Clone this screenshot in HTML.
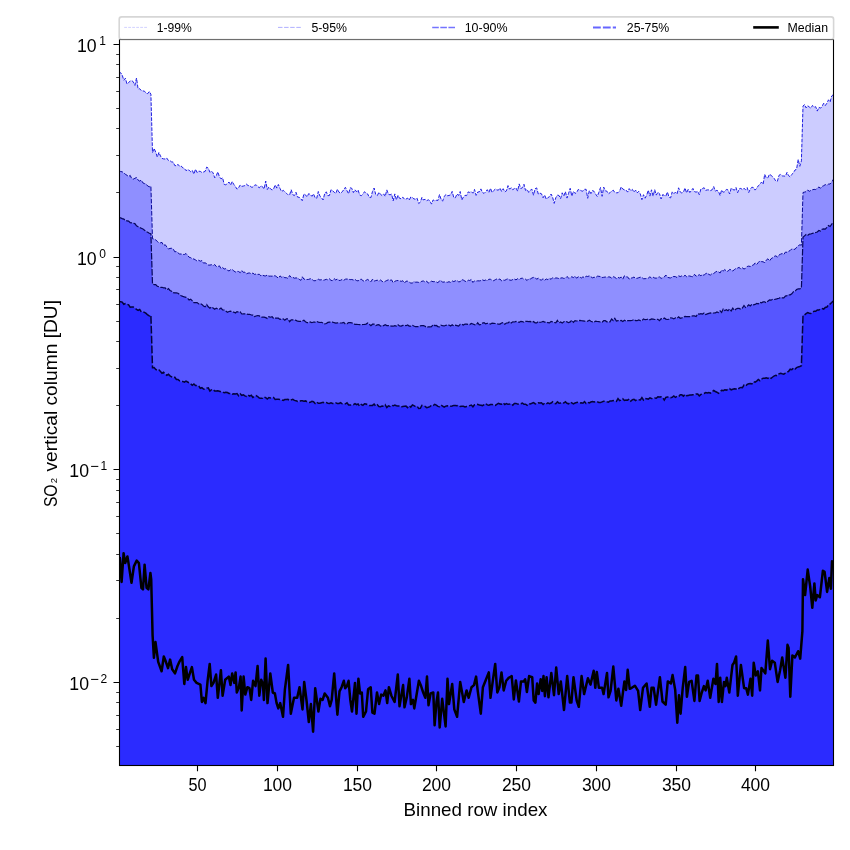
<!DOCTYPE html>
<html><head><meta charset="utf-8"><style>
html,body{margin:0;padding:0;background:#fff;}
svg{display:block;font-family:"Liberation Sans", sans-serif;will-change:transform;}
</style></head><body>
<svg width="850" height="850" viewBox="0 0 850 850">
<rect width="850" height="850" fill="#fff"/>
<defs><clipPath id="ax"><rect x="119.5" y="39.5" width="714.0" height="726.0"/></clipPath></defs>
<g clip-path="url(#ax)">
<path d="M119.0,71.5 L120.6,72.7 L122.2,75.1 L123.8,80.2 L125.4,78.2 L127.0,84.1 L128.6,82.5 L130.2,81.1 L131.8,80.7 L133.3,81.8 L134.9,85.4 L136.5,78.0 L138.1,89.0 L139.7,88.7 L141.3,90.6 L142.9,90.9 L144.5,91.2 L146.1,93.3 L147.7,93.6 L149.3,91.5 L150.9,94.2 L152.5,152.5 L154.1,148.5 L155.7,152.1 L157.3,157.0 L158.9,152.4 L160.5,156.1 L162.0,158.4 L163.6,158.9 L165.2,159.0 L166.8,158.1 L168.4,160.5 L170.0,160.7 L171.6,161.9 L173.2,162.1 L174.8,165.6 L176.4,165.7 L178.0,164.3 L179.6,166.4 L181.2,166.0 L182.8,167.9 L184.4,168.4 L186.0,170.7 L187.6,169.6 L189.1,170.2 L190.7,171.7 L192.3,170.4 L193.9,174.1 L195.5,169.2 L197.1,172.6 L198.7,171.2 L200.3,171.4 L201.9,172.5 L203.5,172.0 L205.1,171.4 L206.7,167.1 L208.3,168.2 L209.9,172.3 L211.5,171.2 L213.1,172.9 L214.7,177.8 L216.3,175.6 L217.8,171.9 L219.4,176.6 L221.0,178.9 L222.6,177.8 L224.2,184.4 L225.8,184.8 L227.4,183.6 L229.0,182.0 L230.6,185.0 L232.2,181.5 L233.8,184.4 L235.4,186.5 L237.0,189.2 L238.6,187.7 L240.2,185.0 L241.8,186.4 L243.4,186.0 L244.9,185.6 L246.5,184.2 L248.1,185.6 L249.7,185.6 L251.3,187.1 L252.9,187.1 L254.5,185.3 L256.1,184.8 L257.7,186.5 L259.3,187.8 L260.9,185.8 L262.5,186.7 L264.1,189.0 L265.7,181.0 L267.3,189.5 L268.9,187.0 L270.5,188.8 L272.1,190.0 L273.6,188.9 L275.2,184.9 L276.8,188.1 L278.4,184.5 L280.0,188.4 L281.6,191.7 L283.2,190.3 L284.8,191.7 L286.4,193.2 L288.0,194.8 L289.6,194.9 L291.2,189.8 L292.8,194.7 L294.4,195.6 L296.0,192.3 L297.6,197.1 L299.2,197.3 L300.8,198.7 L302.3,200.7 L303.9,193.9 L305.5,194.9 L307.1,196.9 L308.7,193.6 L310.3,194.5 L311.9,196.3 L313.5,193.9 L315.1,197.6 L316.7,198.4 L318.3,191.5 L319.9,196.1 L321.5,197.7 L323.1,200.0 L324.7,193.5 L326.3,191.8 L327.9,195.7 L329.4,195.5 L331.0,189.7 L332.6,190.8 L334.2,192.2 L335.8,193.5 L337.4,189.2 L339.0,192.2 L340.6,193.3 L342.2,191.8 L343.8,189.6 L345.4,187.3 L347.0,190.8 L348.6,193.8 L350.2,187.8 L351.8,188.3 L353.4,192.6 L355.0,189.7 L356.6,191.8 L358.1,190.0 L359.7,195.0 L361.3,195.7 L362.9,194.2 L364.5,191.7 L366.1,193.1 L367.7,194.0 L369.3,197.4 L370.9,197.6 L372.5,191.4 L374.1,188.0 L375.7,194.3 L377.3,195.7 L378.9,192.3 L380.5,194.3 L382.1,195.6 L383.7,193.9 L385.2,196.4 L386.8,189.9 L388.4,194.1 L390.0,194.9 L391.6,194.1 L393.2,200.9 L394.8,193.9 L396.4,199.8 L398.0,195.3 L399.6,198.4 L401.2,198.7 L402.8,197.1 L404.4,199.1 L406.0,199.1 L407.6,198.1 L409.2,200.2 L410.8,197.0 L412.4,197.5 L413.9,198.9 L415.5,199.2 L417.1,198.2 L418.7,203.5 L420.3,202.2 L421.9,197.4 L423.5,200.0 L425.1,199.2 L426.7,200.7 L428.3,199.8 L429.9,200.8 L431.5,204.1 L433.1,199.9 L434.7,200.8 L436.3,200.3 L437.9,200.5 L439.5,194.5 L441.0,199.0 L442.6,201.2 L444.2,196.7 L445.8,194.5 L447.4,195.7 L449.0,195.5 L450.6,194.8 L452.2,191.4 L453.8,197.8 L455.4,197.7 L457.0,193.9 L458.6,195.5 L460.2,191.5 L461.8,200.0 L463.4,197.0 L465.0,195.3 L466.6,195.6 L468.2,191.9 L469.7,192.4 L471.3,191.6 L472.9,193.2 L474.5,189.4 L476.1,195.4 L477.7,192.1 L479.3,191.8 L480.9,188.9 L482.5,192.5 L484.1,193.4 L485.7,191.8 L487.3,189.7 L488.9,192.5 L490.5,188.3 L492.1,192.5 L493.7,190.6 L495.3,189.0 L496.8,189.9 L498.4,190.2 L500.0,188.1 L501.6,191.4 L503.2,188.7 L504.8,191.8 L506.4,190.9 L508.0,185.6 L509.6,189.2 L511.2,187.6 L512.8,189.7 L514.4,188.5 L516.0,188.0 L517.6,191.1 L519.2,183.9 L520.8,188.5 L522.4,187.7 L524.0,184.3 L525.5,190.4 L527.1,189.5 L528.7,192.4 L530.3,190.2 L531.9,189.2 L533.5,195.2 L535.1,188.7 L536.7,187.9 L538.3,194.1 L539.9,193.1 L541.5,193.8 L543.1,197.8 L544.7,195.0 L546.3,199.3 L547.9,197.6 L549.5,196.7 L551.1,194.0 L552.6,197.2 L554.2,203.4 L555.8,197.7 L557.4,195.1 L559.0,195.5 L560.6,198.7 L562.2,192.8 L563.8,196.0 L565.4,191.6 L567.0,198.1 L568.6,193.3 L570.2,188.3 L571.8,196.1 L573.4,191.4 L575.0,193.4 L576.6,192.6 L578.2,189.5 L579.8,190.0 L581.3,190.8 L582.9,191.2 L584.5,189.3 L586.1,189.3 L587.7,198.3 L589.3,190.6 L590.9,193.6 L592.5,190.6 L594.1,191.4 L595.7,194.2 L597.3,196.5 L598.9,192.2 L600.5,187.5 L602.1,196.3 L603.7,187.1 L605.3,190.8 L606.9,191.2 L608.5,193.8 L610.0,192.7 L611.6,191.1 L613.2,190.1 L614.8,192.5 L616.4,192.8 L618.0,192.7 L619.6,191.1 L621.2,186.9 L622.8,189.0 L624.4,189.9 L626.0,190.0 L627.6,192.1 L629.2,188.6 L630.8,190.8 L632.4,189.4 L634.0,192.2 L635.6,190.1 L637.1,193.0 L638.7,191.3 L640.3,193.9 L641.9,199.7 L643.5,194.7 L645.1,198.2 L646.7,195.1 L648.3,190.2 L649.9,196.1 L651.5,189.8 L653.1,196.1 L654.7,189.7 L656.3,195.1 L657.9,192.2 L659.5,193.7 L661.1,199.0 L662.7,194.6 L664.3,195.4 L665.8,196.1 L667.4,192.0 L669.0,197.1 L670.6,197.9 L672.2,191.9 L673.8,193.8 L675.4,192.1 L677.0,194.0 L678.6,187.8 L680.2,191.9 L681.8,193.0 L683.4,192.2 L685.0,188.0 L686.6,192.9 L688.2,189.3 L689.8,192.5 L691.4,190.6 L692.9,188.4 L694.5,191.6 L696.1,192.2 L697.7,191.3 L699.3,194.7 L700.9,188.9 L702.5,188.6 L704.1,187.7 L705.7,190.3 L707.3,189.9 L708.9,189.9 L710.5,190.6 L712.1,189.8 L713.7,186.6 L715.3,191.1 L716.9,190.3 L718.5,191.4 L720.1,195.5 L721.6,190.0 L723.2,192.2 L724.8,191.7 L726.4,189.4 L728.0,189.9 L729.6,194.0 L731.2,188.2 L732.8,189.4 L734.4,190.2 L736.0,187.5 L737.6,192.7 L739.2,188.9 L740.8,188.4 L742.4,189.6 L744.0,188.3 L745.6,189.7 L747.2,187.6 L748.7,192.5 L750.3,189.1 L751.9,187.2 L753.5,187.6 L755.1,190.1 L756.7,188.3 L758.3,185.7 L759.9,184.4 L761.5,182.0 L763.1,184.3 L764.7,174.3 L766.3,177.9 L767.9,177.8 L769.5,174.2 L771.1,175.4 L772.7,176.8 L774.3,178.6 L775.9,181.3 L777.4,181.2 L779.0,175.3 L780.6,174.4 L782.2,175.9 L783.8,176.0 L785.4,176.2 L787.0,172.4 L788.6,175.7 L790.2,176.8 L791.8,174.4 L793.4,172.9 L795.0,170.0 L796.6,169.2 L798.2,159.4 L799.8,166.3 L801.4,160.9 L803.0,106.1 L804.5,104.5 L806.1,107.9 L807.7,105.7 L809.3,107.0 L810.9,108.2 L812.5,105.4 L814.1,107.2 L815.7,106.7 L817.3,111.1 L818.9,107.3 L820.5,108.2 L822.1,106.3 L823.7,103.2 L825.3,105.5 L826.9,103.2 L828.5,99.8 L830.1,102.0 L831.7,96.0 L833.2,94.7 L833.5,765.5 L119.5,765.5 Z" fill="#ccccff"/>
<path d="M119.0,170.4 L120.6,171.5 L122.2,171.8 L123.8,172.9 L125.4,174.3 L127.0,175.3 L128.6,176.6 L130.2,175.4 L131.8,178.8 L133.3,179.1 L134.9,178.3 L136.5,177.5 L138.1,180.1 L139.7,181.1 L141.3,180.1 L142.9,182.9 L144.5,183.6 L146.1,184.0 L147.7,186.0 L149.3,186.8 L150.9,186.0 L152.5,238.8 L154.1,239.0 L155.7,239.8 L157.3,241.5 L158.9,242.8 L160.5,242.8 L162.0,242.4 L163.6,245.6 L165.2,244.7 L166.8,246.9 L168.4,249.0 L170.0,248.4 L171.6,248.3 L173.2,248.9 L174.8,251.8 L176.4,251.6 L178.0,252.9 L179.6,254.0 L181.2,254.0 L182.8,254.4 L184.4,254.5 L186.0,253.5 L187.6,255.4 L189.1,257.2 L190.7,257.7 L192.3,258.8 L193.9,259.0 L195.5,259.9 L197.1,261.1 L198.7,260.2 L200.3,261.2 L201.9,260.6 L203.5,263.1 L205.1,262.8 L206.7,263.7 L208.3,265.0 L209.9,265.1 L211.5,264.7 L213.1,265.8 L214.7,264.5 L216.3,266.5 L217.8,266.7 L219.4,265.8 L221.0,268.6 L222.6,267.5 L224.2,269.0 L225.8,268.6 L227.4,270.2 L229.0,271.0 L230.6,269.7 L232.2,269.5 L233.8,270.9 L235.4,272.0 L237.0,271.3 L238.6,271.5 L240.2,272.7 L241.8,270.4 L243.4,272.4 L244.9,272.1 L246.5,273.8 L248.1,273.1 L249.7,273.0 L251.3,273.8 L252.9,273.1 L254.5,274.4 L256.1,274.0 L257.7,274.4 L259.3,274.3 L260.9,275.8 L262.5,275.1 L264.1,275.8 L265.7,275.9 L267.3,275.0 L268.9,276.2 L270.5,276.1 L272.1,276.2 L273.6,275.7 L275.2,275.8 L276.8,276.9 L278.4,278.2 L280.0,275.9 L281.6,277.2 L283.2,276.6 L284.8,277.7 L286.4,277.7 L288.0,278.4 L289.6,275.5 L291.2,277.4 L292.8,277.3 L294.4,278.2 L296.0,277.9 L297.6,278.1 L299.2,279.3 L300.8,280.4 L302.3,276.8 L303.9,279.0 L305.5,279.6 L307.1,279.5 L308.7,279.4 L310.3,278.7 L311.9,279.2 L313.5,280.6 L315.1,280.8 L316.7,280.0 L318.3,279.2 L319.9,280.0 L321.5,279.7 L323.1,280.3 L324.7,279.9 L326.3,279.3 L327.9,279.9 L329.4,278.8 L331.0,280.4 L332.6,280.6 L334.2,278.7 L335.8,280.0 L337.4,278.8 L339.0,280.5 L340.6,280.3 L342.2,279.4 L343.8,280.3 L345.4,279.2 L347.0,279.0 L348.6,279.2 L350.2,279.6 L351.8,279.5 L353.4,280.0 L355.0,279.4 L356.6,280.6 L358.1,280.9 L359.7,279.7 L361.3,279.0 L362.9,280.8 L364.5,281.2 L366.1,280.3 L367.7,279.4 L369.3,280.7 L370.9,281.8 L372.5,279.2 L374.1,281.1 L375.7,280.6 L377.3,280.2 L378.9,281.3 L380.5,280.0 L382.1,281.3 L383.7,282.2 L385.2,281.3 L386.8,280.5 L388.4,279.8 L390.0,280.3 L391.6,279.9 L393.2,282.7 L394.8,281.3 L396.4,280.7 L398.0,280.5 L399.6,280.7 L401.2,281.4 L402.8,280.7 L404.4,283.1 L406.0,281.2 L407.6,281.2 L409.2,282.1 L410.8,283.1 L412.4,283.0 L413.9,281.6 L415.5,282.2 L417.1,282.1 L418.7,282.4 L420.3,282.2 L421.9,281.2 L423.5,281.0 L425.1,282.1 L426.7,281.1 L428.3,283.1 L429.9,282.0 L431.5,281.2 L433.1,281.7 L434.7,281.6 L436.3,281.9 L437.9,282.8 L439.5,280.8 L441.0,280.5 L442.6,282.3 L444.2,281.9 L445.8,282.1 L447.4,282.3 L449.0,281.7 L450.6,282.4 L452.2,280.9 L453.8,281.6 L455.4,280.8 L457.0,280.5 L458.6,281.8 L460.2,281.7 L461.8,279.6 L463.4,280.1 L465.0,281.2 L466.6,281.7 L468.2,280.2 L469.7,280.5 L471.3,279.5 L472.9,282.5 L474.5,280.8 L476.1,281.1 L477.7,280.8 L479.3,280.9 L480.9,280.6 L482.5,279.8 L484.1,280.6 L485.7,280.0 L487.3,280.9 L488.9,279.2 L490.5,279.3 L492.1,280.2 L493.7,280.7 L495.3,279.7 L496.8,279.0 L498.4,279.4 L500.0,279.0 L501.6,280.9 L503.2,280.0 L504.8,280.3 L506.4,279.4 L508.0,278.7 L509.6,280.0 L511.2,280.3 L512.8,279.5 L514.4,279.0 L516.0,279.9 L517.6,278.7 L519.2,279.6 L520.8,278.4 L522.4,278.2 L524.0,279.4 L525.5,279.2 L527.1,280.5 L528.7,278.7 L530.3,279.0 L531.9,278.0 L533.5,277.4 L535.1,277.5 L536.7,279.3 L538.3,278.0 L539.9,279.8 L541.5,280.0 L543.1,278.7 L544.7,280.2 L546.3,279.0 L547.9,279.6 L549.5,278.4 L551.1,279.3 L552.6,277.7 L554.2,278.8 L555.8,277.9 L557.4,278.1 L559.0,278.6 L560.6,278.1 L562.2,277.8 L563.8,278.4 L565.4,278.3 L567.0,276.5 L568.6,278.0 L570.2,278.0 L571.8,276.7 L573.4,277.6 L575.0,276.1 L576.6,278.2 L578.2,276.8 L579.8,276.9 L581.3,278.0 L582.9,276.9 L584.5,277.5 L586.1,276.2 L587.7,276.5 L589.3,275.9 L590.9,276.8 L592.5,277.8 L594.1,277.2 L595.7,277.7 L597.3,276.2 L598.9,276.3 L600.5,276.6 L602.1,277.5 L603.7,277.3 L605.3,277.0 L606.9,277.5 L608.5,276.9 L610.0,277.0 L611.6,278.1 L613.2,276.7 L614.8,277.3 L616.4,278.6 L618.0,277.4 L619.6,278.0 L621.2,277.0 L622.8,279.1 L624.4,275.8 L626.0,276.8 L627.6,276.9 L629.2,279.1 L630.8,278.2 L632.4,277.8 L634.0,277.0 L635.6,278.4 L637.1,278.3 L638.7,277.7 L640.3,277.2 L641.9,277.5 L643.5,278.7 L645.1,278.7 L646.7,278.4 L648.3,278.1 L649.9,276.8 L651.5,278.1 L653.1,277.2 L654.7,278.0 L656.3,278.2 L657.9,277.3 L659.5,276.9 L661.1,278.4 L662.7,277.8 L664.3,277.0 L665.8,275.0 L667.4,277.3 L669.0,277.7 L670.6,278.1 L672.2,276.5 L673.8,276.5 L675.4,276.6 L677.0,277.5 L678.6,275.8 L680.2,276.6 L681.8,275.9 L683.4,276.7 L685.0,275.2 L686.6,276.7 L688.2,275.9 L689.8,276.0 L691.4,276.5 L692.9,276.8 L694.5,274.3 L696.1,276.2 L697.7,275.6 L699.3,274.7 L700.9,275.8 L702.5,274.6 L704.1,275.3 L705.7,273.5 L707.3,273.1 L708.9,274.5 L710.5,275.0 L712.1,273.5 L713.7,273.5 L715.3,272.2 L716.9,271.3 L718.5,271.9 L720.1,273.0 L721.6,270.1 L723.2,271.0 L724.8,269.6 L726.4,271.0 L728.0,271.3 L729.6,269.4 L731.2,269.8 L732.8,271.0 L734.4,269.6 L736.0,268.4 L737.6,268.1 L739.2,267.3 L740.8,269.3 L742.4,267.9 L744.0,269.0 L745.6,268.3 L747.2,266.5 L748.7,266.1 L750.3,266.5 L751.9,265.5 L753.5,265.0 L755.1,262.9 L756.7,264.4 L758.3,262.5 L759.9,260.8 L761.5,261.6 L763.1,261.8 L764.7,262.6 L766.3,260.1 L767.9,258.8 L769.5,261.0 L771.1,258.7 L772.7,257.7 L774.3,256.4 L775.9,255.8 L777.4,257.1 L779.0,255.0 L780.6,254.2 L782.2,253.5 L783.8,254.5 L785.4,252.1 L787.0,252.3 L788.6,251.3 L790.2,250.5 L791.8,248.9 L793.4,249.3 L795.0,249.3 L796.6,247.3 L798.2,245.8 L799.8,244.8 L801.4,245.2 L803.0,192.5 L804.5,192.1 L806.1,191.7 L807.7,190.0 L809.3,191.3 L810.9,190.4 L812.5,189.7 L814.1,189.4 L815.7,189.5 L817.3,188.3 L818.9,187.0 L820.5,188.2 L822.1,186.4 L823.7,185.7 L825.3,184.6 L826.9,185.4 L828.5,184.1 L830.1,184.0 L831.7,182.3 L833.2,179.4 L833.5,765.5 L119.5,765.5 Z" fill="#8f8fff"/>
<path d="M119.0,217.8 L120.6,217.8 L122.2,218.6 L123.8,219.1 L125.4,220.5 L127.0,220.8 L128.6,221.1 L130.2,222.6 L131.8,222.8 L133.3,223.4 L134.9,223.6 L136.5,225.9 L138.1,226.7 L139.7,227.6 L141.3,228.2 L142.9,228.9 L144.5,230.2 L146.1,231.5 L147.7,232.2 L149.3,233.2 L150.9,233.8 L152.5,284.1 L154.1,284.6 L155.7,284.5 L157.3,286.2 L158.9,286.8 L160.5,287.4 L162.0,287.3 L163.6,287.9 L165.2,287.9 L166.8,289.9 L168.4,288.6 L170.0,290.5 L171.6,291.2 L173.2,292.7 L174.8,292.8 L176.4,292.9 L178.0,293.2 L179.6,294.4 L181.2,295.7 L182.8,296.4 L184.4,296.9 L186.0,297.3 L187.6,298.4 L189.1,300.0 L190.7,299.2 L192.3,300.8 L193.9,302.6 L195.5,302.6 L197.1,302.6 L198.7,303.9 L200.3,303.4 L201.9,304.4 L203.5,306.0 L205.1,306.7 L206.7,304.6 L208.3,306.8 L209.9,308.2 L211.5,306.9 L213.1,308.0 L214.7,309.2 L216.3,308.1 L217.8,309.1 L219.4,309.1 L221.0,308.1 L222.6,310.0 L224.2,310.0 L225.8,311.1 L227.4,312.2 L229.0,311.5 L230.6,311.1 L232.2,312.0 L233.8,312.1 L235.4,313.0 L237.0,311.6 L238.6,312.1 L240.2,311.8 L241.8,314.0 L243.4,313.9 L244.9,313.8 L246.5,314.0 L248.1,314.4 L249.7,314.3 L251.3,315.0 L252.9,315.1 L254.5,316.6 L256.1,316.0 L257.7,315.5 L259.3,315.8 L260.9,317.3 L262.5,317.0 L264.1,317.1 L265.7,317.6 L267.3,318.4 L268.9,316.6 L270.5,317.2 L272.1,316.7 L273.6,318.5 L275.2,318.1 L276.8,318.1 L278.4,318.2 L280.0,319.4 L281.6,319.0 L283.2,318.9 L284.8,320.3 L286.4,318.8 L288.0,318.8 L289.6,321.7 L291.2,319.8 L292.8,319.8 L294.4,319.9 L296.0,320.4 L297.6,321.2 L299.2,321.4 L300.8,321.4 L302.3,321.0 L303.9,320.3 L305.5,321.7 L307.1,322.7 L308.7,322.6 L310.3,321.9 L311.9,322.7 L313.5,322.0 L315.1,322.2 L316.7,321.4 L318.3,322.1 L319.9,322.5 L321.5,322.3 L323.1,323.0 L324.7,323.8 L326.3,323.5 L327.9,322.4 L329.4,322.1 L331.0,322.2 L332.6,322.0 L334.2,322.7 L335.8,323.1 L337.4,322.9 L339.0,323.0 L340.6,323.0 L342.2,322.8 L343.8,322.4 L345.4,324.2 L347.0,323.8 L348.6,322.5 L350.2,322.6 L351.8,322.9 L353.4,323.5 L355.0,324.4 L356.6,324.3 L358.1,324.5 L359.7,324.6 L361.3,324.7 L362.9,324.5 L364.5,324.4 L366.1,324.1 L367.7,323.1 L369.3,324.3 L370.9,325.7 L372.5,324.2 L374.1,324.2 L375.7,325.5 L377.3,324.9 L378.9,324.6 L380.5,326.1 L382.1,325.5 L383.7,325.6 L385.2,324.8 L386.8,325.6 L388.4,325.5 L390.0,325.8 L391.6,326.2 L393.2,326.2 L394.8,325.6 L396.4,326.0 L398.0,324.7 L399.6,326.0 L401.2,326.1 L402.8,325.4 L404.4,325.2 L406.0,325.7 L407.6,325.0 L409.2,326.1 L410.8,326.1 L412.4,325.3 L413.9,326.0 L415.5,326.7 L417.1,326.7 L418.7,326.6 L420.3,325.8 L421.9,325.7 L423.5,325.6 L425.1,326.3 L426.7,327.5 L428.3,326.8 L429.9,326.9 L431.5,326.7 L433.1,324.6 L434.7,325.6 L436.3,325.4 L437.9,326.6 L439.5,326.9 L441.0,325.2 L442.6,325.7 L444.2,326.0 L445.8,325.3 L447.4,325.1 L449.0,325.0 L450.6,326.0 L452.2,324.7 L453.8,326.0 L455.4,325.2 L457.0,325.6 L458.6,326.1 L460.2,324.4 L461.8,324.3 L463.4,325.0 L465.0,324.0 L466.6,324.1 L468.2,324.4 L469.7,324.6 L471.3,323.5 L472.9,324.0 L474.5,324.6 L476.1,325.1 L477.7,322.7 L479.3,324.9 L480.9,324.5 L482.5,323.1 L484.1,322.7 L485.7,323.9 L487.3,323.3 L488.9,323.6 L490.5,324.0 L492.1,323.1 L493.7,323.3 L495.3,323.5 L496.8,323.7 L498.4,324.2 L500.0,324.1 L501.6,323.0 L503.2,322.6 L504.8,324.3 L506.4,323.0 L508.0,322.8 L509.6,321.6 L511.2,322.9 L512.8,321.8 L514.4,322.0 L516.0,321.4 L517.6,321.9 L519.2,322.3 L520.8,321.3 L522.4,321.7 L524.0,322.2 L525.5,321.4 L527.1,321.4 L528.7,321.7 L530.3,321.3 L531.9,322.7 L533.5,321.6 L535.1,322.8 L536.7,322.9 L538.3,321.5 L539.9,322.3 L541.5,322.0 L543.1,321.5 L544.7,322.1 L546.3,322.1 L547.9,322.7 L549.5,322.9 L551.1,321.4 L552.6,321.9 L554.2,322.5 L555.8,322.9 L557.4,320.4 L559.0,322.9 L560.6,321.9 L562.2,323.1 L563.8,321.7 L565.4,321.3 L567.0,321.9 L568.6,322.7 L570.2,321.9 L571.8,320.2 L573.4,322.3 L575.0,320.6 L576.6,321.0 L578.2,320.9 L579.8,320.4 L581.3,320.7 L582.9,320.8 L584.5,321.1 L586.1,321.4 L587.7,321.2 L589.3,320.3 L590.9,321.2 L592.5,321.9 L594.1,321.9 L595.7,321.2 L597.3,321.5 L598.9,321.7 L600.5,322.0 L602.1,322.1 L603.7,320.7 L605.3,320.7 L606.9,321.8 L608.5,321.9 L610.0,321.8 L611.6,319.0 L613.2,320.5 L614.8,318.3 L616.4,321.1 L618.0,320.6 L619.6,320.6 L621.2,320.4 L622.8,321.4 L624.4,320.2 L626.0,321.1 L627.6,320.7 L629.2,320.6 L630.8,320.6 L632.4,320.3 L634.0,319.5 L635.6,320.7 L637.1,320.7 L638.7,320.0 L640.3,320.6 L641.9,320.6 L643.5,319.0 L645.1,319.7 L646.7,319.5 L648.3,319.0 L649.9,319.8 L651.5,318.9 L653.1,319.1 L654.7,319.5 L656.3,319.5 L657.9,319.4 L659.5,320.7 L661.1,318.7 L662.7,319.1 L664.3,318.0 L665.8,319.1 L667.4,319.5 L669.0,319.3 L670.6,317.9 L672.2,318.0 L673.8,318.9 L675.4,317.8 L677.0,318.4 L678.6,316.8 L680.2,318.3 L681.8,317.9 L683.4,317.4 L685.0,316.3 L686.6,316.6 L688.2,316.7 L689.8,316.6 L691.4,316.2 L692.9,315.9 L694.5,315.9 L696.1,316.5 L697.7,313.9 L699.3,314.1 L700.9,313.7 L702.5,314.1 L704.1,313.1 L705.7,314.5 L707.3,313.9 L708.9,313.4 L710.5,312.9 L712.1,313.2 L713.7,313.0 L715.3,312.9 L716.9,311.9 L718.5,312.6 L720.1,310.8 L721.6,312.4 L723.2,309.0 L724.8,310.5 L726.4,309.7 L728.0,310.8 L729.6,308.9 L731.2,310.9 L732.8,308.2 L734.4,310.4 L736.0,309.0 L737.6,308.4 L739.2,308.4 L740.8,309.3 L742.4,308.0 L744.0,305.5 L745.6,307.5 L747.2,306.4 L748.7,304.8 L750.3,306.0 L751.9,304.2 L753.5,304.8 L755.1,304.4 L756.7,303.4 L758.3,303.9 L759.9,302.4 L761.5,302.8 L763.1,301.9 L764.7,301.8 L766.3,302.8 L767.9,301.2 L769.5,299.9 L771.1,300.2 L772.7,299.3 L774.3,299.5 L775.9,299.2 L777.4,298.7 L779.0,298.3 L780.6,297.5 L782.2,297.8 L783.8,297.8 L785.4,296.1 L787.0,295.6 L788.6,294.8 L790.2,294.8 L791.8,293.8 L793.4,291.7 L795.0,291.4 L796.6,289.4 L798.2,288.9 L799.8,288.8 L801.4,288.3 L803.0,237.3 L804.5,235.9 L806.1,234.5 L807.7,235.2 L809.3,234.2 L810.9,234.0 L812.5,233.3 L814.1,233.1 L815.7,232.5 L817.3,232.0 L818.9,230.5 L820.5,231.0 L822.1,229.2 L823.7,228.8 L825.3,229.2 L826.9,227.4 L828.5,225.5 L830.1,226.5 L831.7,224.2 L833.2,222.5 L833.5,765.5 L119.5,765.5 Z" fill="#5656ff"/>
<path d="M119.0,301.6 L120.6,301.8 L122.2,302.1 L123.8,304.3 L125.4,303.6 L127.0,304.2 L128.6,304.9 L130.2,307.2 L131.8,307.1 L133.3,307.1 L134.9,308.1 L136.5,309.3 L138.1,310.3 L139.7,309.4 L141.3,311.9 L142.9,311.9 L144.5,312.4 L146.1,313.4 L147.7,315.0 L149.3,316.0 L150.9,315.1 L152.5,367.7 L154.1,367.6 L155.7,369.4 L157.3,370.5 L158.9,369.8 L160.5,371.4 L162.0,373.2 L163.6,372.3 L165.2,374.0 L166.8,375.3 L168.4,374.3 L170.0,375.9 L171.6,376.8 L173.2,378.0 L174.8,377.2 L176.4,379.5 L178.0,379.5 L179.6,380.8 L181.2,381.4 L182.8,381.4 L184.4,382.1 L186.0,381.1 L187.6,382.0 L189.1,382.8 L190.7,383.9 L192.3,385.3 L193.9,384.0 L195.5,385.6 L197.1,385.5 L198.7,385.8 L200.3,388.3 L201.9,387.7 L203.5,389.1 L205.1,389.2 L206.7,388.1 L208.3,387.9 L209.9,391.0 L211.5,389.7 L213.1,389.5 L214.7,391.1 L216.3,391.0 L217.8,390.7 L219.4,391.2 L221.0,391.8 L222.6,392.0 L224.2,392.8 L225.8,392.3 L227.4,392.5 L229.0,393.5 L230.6,393.5 L232.2,394.3 L233.8,393.7 L235.4,394.0 L237.0,393.6 L238.6,395.7 L240.2,393.9 L241.8,395.3 L243.4,394.8 L244.9,395.9 L246.5,396.5 L248.1,395.0 L249.7,396.1 L251.3,395.2 L252.9,397.5 L254.5,396.4 L256.1,395.7 L257.7,396.5 L259.3,398.1 L260.9,398.3 L262.5,398.3 L264.1,397.0 L265.7,397.6 L267.3,399.0 L268.9,397.5 L270.5,397.9 L272.1,397.6 L273.6,397.6 L275.2,399.4 L276.8,399.2 L278.4,399.2 L280.0,399.4 L281.6,399.9 L283.2,400.4 L284.8,399.5 L286.4,399.5 L288.0,399.2 L289.6,400.8 L291.2,399.9 L292.8,399.3 L294.4,400.4 L296.0,400.7 L297.6,401.5 L299.2,401.8 L300.8,400.7 L302.3,400.8 L303.9,401.3 L305.5,400.9 L307.1,401.8 L308.7,402.4 L310.3,402.3 L311.9,401.3 L313.5,401.7 L315.1,403.5 L316.7,402.0 L318.3,403.3 L319.9,403.3 L321.5,402.7 L323.1,402.3 L324.7,403.3 L326.3,402.6 L327.9,403.2 L329.4,403.4 L331.0,402.9 L332.6,403.4 L334.2,403.4 L335.8,402.8 L337.4,403.6 L339.0,403.4 L340.6,402.7 L342.2,403.8 L343.8,403.9 L345.4,403.8 L347.0,402.8 L348.6,404.9 L350.2,404.9 L351.8,404.9 L353.4,404.7 L355.0,403.7 L356.6,404.7 L358.1,404.0 L359.7,406.3 L361.3,404.4 L362.9,405.3 L364.5,403.8 L366.1,404.1 L367.7,404.7 L369.3,405.6 L370.9,405.5 L372.5,405.4 L374.1,404.0 L375.7,406.1 L377.3,404.7 L378.9,406.6 L380.5,406.8 L382.1,406.1 L383.7,406.3 L385.2,404.7 L386.8,407.5 L388.4,405.9 L390.0,406.4 L391.6,405.2 L393.2,405.8 L394.8,405.0 L396.4,405.7 L398.0,405.9 L399.6,406.1 L401.2,407.0 L402.8,406.4 L404.4,406.2 L406.0,406.1 L407.6,407.6 L409.2,405.8 L410.8,407.1 L412.4,404.9 L413.9,405.7 L415.5,406.6 L417.1,406.3 L418.7,408.5 L420.3,408.3 L421.9,405.4 L423.5,405.7 L425.1,406.3 L426.7,407.6 L428.3,407.2 L429.9,406.6 L431.5,405.3 L433.1,405.7 L434.7,404.3 L436.3,405.1 L437.9,406.4 L439.5,406.7 L441.0,405.1 L442.6,406.1 L444.2,407.1 L445.8,406.1 L447.4,405.7 L449.0,406.3 L450.6,406.2 L452.2,405.9 L453.8,405.4 L455.4,405.4 L457.0,405.7 L458.6,405.3 L460.2,406.5 L461.8,406.2 L463.4,406.3 L465.0,406.9 L466.6,406.5 L468.2,406.4 L469.7,405.6 L471.3,405.1 L472.9,406.8 L474.5,404.7 L476.1,404.7 L477.7,404.4 L479.3,405.1 L480.9,405.2 L482.5,405.6 L484.1,404.7 L485.7,403.5 L487.3,404.9 L488.9,405.3 L490.5,404.6 L492.1,404.4 L493.7,404.9 L495.3,405.4 L496.8,404.3 L498.4,403.3 L500.0,403.9 L501.6,404.1 L503.2,402.9 L504.8,404.6 L506.4,403.5 L508.0,404.3 L509.6,404.1 L511.2,403.7 L512.8,405.1 L514.4,403.5 L516.0,403.4 L517.6,404.1 L519.2,404.4 L520.8,403.8 L522.4,403.1 L524.0,404.3 L525.5,404.2 L527.1,405.2 L528.7,403.6 L530.3,403.9 L531.9,403.3 L533.5,402.6 L535.1,403.7 L536.7,404.2 L538.3,402.9 L539.9,403.1 L541.5,402.8 L543.1,404.5 L544.7,403.1 L546.3,403.9 L547.9,402.9 L549.5,403.6 L551.1,403.0 L552.6,401.8 L554.2,403.4 L555.8,403.7 L557.4,401.9 L559.0,403.2 L560.6,402.9 L562.2,402.4 L563.8,403.0 L565.4,401.8 L567.0,403.3 L568.6,403.9 L570.2,402.1 L571.8,402.9 L573.4,403.9 L575.0,403.0 L576.6,402.5 L578.2,402.2 L579.8,402.9 L581.3,402.7 L582.9,403.2 L584.5,401.6 L586.1,403.4 L587.7,402.3 L589.3,403.0 L590.9,402.0 L592.5,401.5 L594.1,401.9 L595.7,401.6 L597.3,401.8 L598.9,402.5 L600.5,402.6 L602.1,401.9 L603.7,401.3 L605.3,401.2 L606.9,401.8 L608.5,402.1 L610.0,401.0 L611.6,401.0 L613.2,400.5 L614.8,401.0 L616.4,401.4 L618.0,398.6 L619.6,400.7 L621.2,400.0 L622.8,398.7 L624.4,400.4 L626.0,400.0 L627.6,400.2 L629.2,398.9 L630.8,401.2 L632.4,399.7 L634.0,399.3 L635.6,400.5 L637.1,399.7 L638.7,399.8 L640.3,399.9 L641.9,397.5 L643.5,400.0 L645.1,398.5 L646.7,398.8 L648.3,399.1 L649.9,397.9 L651.5,398.5 L653.1,398.7 L654.7,398.0 L656.3,398.3 L657.9,396.7 L659.5,396.9 L661.1,396.8 L662.7,397.7 L664.3,400.0 L665.8,397.4 L667.4,397.0 L669.0,397.0 L670.6,397.6 L672.2,397.3 L673.8,395.9 L675.4,397.3 L677.0,396.4 L678.6,396.8 L680.2,394.7 L681.8,394.8 L683.4,396.1 L685.0,394.2 L686.6,395.6 L688.2,395.4 L689.8,395.0 L691.4,395.0 L692.9,394.7 L694.5,394.7 L696.1,393.9 L697.7,394.0 L699.3,395.9 L700.9,394.4 L702.5,393.9 L704.1,393.5 L705.7,392.5 L707.3,393.0 L708.9,392.5 L710.5,393.1 L712.1,391.7 L713.7,390.5 L715.3,391.5 L716.9,392.2 L718.5,393.3 L720.1,392.0 L721.6,390.3 L723.2,390.6 L724.8,389.8 L726.4,390.1 L728.0,389.3 L729.6,388.6 L731.2,389.8 L732.8,389.3 L734.4,388.8 L736.0,388.9 L737.6,389.8 L739.2,388.2 L740.8,387.4 L742.4,387.6 L744.0,385.1 L745.6,386.1 L747.2,384.4 L748.7,383.7 L750.3,383.6 L751.9,384.0 L753.5,381.7 L755.1,382.2 L756.7,381.1 L758.3,379.5 L759.9,380.7 L761.5,379.1 L763.1,378.2 L764.7,378.3 L766.3,377.9 L767.9,378.4 L769.5,377.1 L771.1,378.3 L772.7,377.0 L774.3,375.9 L775.9,375.4 L777.4,375.8 L779.0,373.8 L780.6,373.3 L782.2,373.8 L783.8,374.1 L785.4,373.1 L787.0,372.2 L788.6,371.3 L790.2,369.2 L791.8,369.7 L793.4,368.0 L795.0,369.0 L796.6,367.7 L798.2,366.9 L799.8,366.5 L801.4,365.7 L803.0,315.3 L804.5,314.9 L806.1,313.7 L807.7,312.6 L809.3,313.3 L810.9,313.5 L812.5,312.6 L814.1,311.2 L815.7,311.3 L817.3,310.0 L818.9,310.0 L820.5,308.8 L822.1,308.6 L823.7,309.1 L825.3,307.5 L826.9,307.1 L828.5,304.7 L830.1,304.0 L831.7,302.5 L833.2,301.0 L833.5,765.5 L119.5,765.5 Z" fill="#2b2bff"/>
<path d="M119.0,71.5 L120.6,72.7 L122.2,75.1 L123.8,80.2 L125.4,78.2 L127.0,84.1 L128.6,82.5 L130.2,81.1 L131.8,80.7 L133.3,81.8 L134.9,85.4 L136.5,78.0 L138.1,89.0 L139.7,88.7 L141.3,90.6 L142.9,90.9 L144.5,91.2 L146.1,93.3 L147.7,93.6 L149.3,91.5 L150.9,94.2 L152.5,152.5 L154.1,148.5 L155.7,152.1 L157.3,157.0 L158.9,152.4 L160.5,156.1 L162.0,158.4 L163.6,158.9 L165.2,159.0 L166.8,158.1 L168.4,160.5 L170.0,160.7 L171.6,161.9 L173.2,162.1 L174.8,165.6 L176.4,165.7 L178.0,164.3 L179.6,166.4 L181.2,166.0 L182.8,167.9 L184.4,168.4 L186.0,170.7 L187.6,169.6 L189.1,170.2 L190.7,171.7 L192.3,170.4 L193.9,174.1 L195.5,169.2 L197.1,172.6 L198.7,171.2 L200.3,171.4 L201.9,172.5 L203.5,172.0 L205.1,171.4 L206.7,167.1 L208.3,168.2 L209.9,172.3 L211.5,171.2 L213.1,172.9 L214.7,177.8 L216.3,175.6 L217.8,171.9 L219.4,176.6 L221.0,178.9 L222.6,177.8 L224.2,184.4 L225.8,184.8 L227.4,183.6 L229.0,182.0 L230.6,185.0 L232.2,181.5 L233.8,184.4 L235.4,186.5 L237.0,189.2 L238.6,187.7 L240.2,185.0 L241.8,186.4 L243.4,186.0 L244.9,185.6 L246.5,184.2 L248.1,185.6 L249.7,185.6 L251.3,187.1 L252.9,187.1 L254.5,185.3 L256.1,184.8 L257.7,186.5 L259.3,187.8 L260.9,185.8 L262.5,186.7 L264.1,189.0 L265.7,181.0 L267.3,189.5 L268.9,187.0 L270.5,188.8 L272.1,190.0 L273.6,188.9 L275.2,184.9 L276.8,188.1 L278.4,184.5 L280.0,188.4 L281.6,191.7 L283.2,190.3 L284.8,191.7 L286.4,193.2 L288.0,194.8 L289.6,194.9 L291.2,189.8 L292.8,194.7 L294.4,195.6 L296.0,192.3 L297.6,197.1 L299.2,197.3 L300.8,198.7 L302.3,200.7 L303.9,193.9 L305.5,194.9 L307.1,196.9 L308.7,193.6 L310.3,194.5 L311.9,196.3 L313.5,193.9 L315.1,197.6 L316.7,198.4 L318.3,191.5 L319.9,196.1 L321.5,197.7 L323.1,200.0 L324.7,193.5 L326.3,191.8 L327.9,195.7 L329.4,195.5 L331.0,189.7 L332.6,190.8 L334.2,192.2 L335.8,193.5 L337.4,189.2 L339.0,192.2 L340.6,193.3 L342.2,191.8 L343.8,189.6 L345.4,187.3 L347.0,190.8 L348.6,193.8 L350.2,187.8 L351.8,188.3 L353.4,192.6 L355.0,189.7 L356.6,191.8 L358.1,190.0 L359.7,195.0 L361.3,195.7 L362.9,194.2 L364.5,191.7 L366.1,193.1 L367.7,194.0 L369.3,197.4 L370.9,197.6 L372.5,191.4 L374.1,188.0 L375.7,194.3 L377.3,195.7 L378.9,192.3 L380.5,194.3 L382.1,195.6 L383.7,193.9 L385.2,196.4 L386.8,189.9 L388.4,194.1 L390.0,194.9 L391.6,194.1 L393.2,200.9 L394.8,193.9 L396.4,199.8 L398.0,195.3 L399.6,198.4 L401.2,198.7 L402.8,197.1 L404.4,199.1 L406.0,199.1 L407.6,198.1 L409.2,200.2 L410.8,197.0 L412.4,197.5 L413.9,198.9 L415.5,199.2 L417.1,198.2 L418.7,203.5 L420.3,202.2 L421.9,197.4 L423.5,200.0 L425.1,199.2 L426.7,200.7 L428.3,199.8 L429.9,200.8 L431.5,204.1 L433.1,199.9 L434.7,200.8 L436.3,200.3 L437.9,200.5 L439.5,194.5 L441.0,199.0 L442.6,201.2 L444.2,196.7 L445.8,194.5 L447.4,195.7 L449.0,195.5 L450.6,194.8 L452.2,191.4 L453.8,197.8 L455.4,197.7 L457.0,193.9 L458.6,195.5 L460.2,191.5 L461.8,200.0 L463.4,197.0 L465.0,195.3 L466.6,195.6 L468.2,191.9 L469.7,192.4 L471.3,191.6 L472.9,193.2 L474.5,189.4 L476.1,195.4 L477.7,192.1 L479.3,191.8 L480.9,188.9 L482.5,192.5 L484.1,193.4 L485.7,191.8 L487.3,189.7 L488.9,192.5 L490.5,188.3 L492.1,192.5 L493.7,190.6 L495.3,189.0 L496.8,189.9 L498.4,190.2 L500.0,188.1 L501.6,191.4 L503.2,188.7 L504.8,191.8 L506.4,190.9 L508.0,185.6 L509.6,189.2 L511.2,187.6 L512.8,189.7 L514.4,188.5 L516.0,188.0 L517.6,191.1 L519.2,183.9 L520.8,188.5 L522.4,187.7 L524.0,184.3 L525.5,190.4 L527.1,189.5 L528.7,192.4 L530.3,190.2 L531.9,189.2 L533.5,195.2 L535.1,188.7 L536.7,187.9 L538.3,194.1 L539.9,193.1 L541.5,193.8 L543.1,197.8 L544.7,195.0 L546.3,199.3 L547.9,197.6 L549.5,196.7 L551.1,194.0 L552.6,197.2 L554.2,203.4 L555.8,197.7 L557.4,195.1 L559.0,195.5 L560.6,198.7 L562.2,192.8 L563.8,196.0 L565.4,191.6 L567.0,198.1 L568.6,193.3 L570.2,188.3 L571.8,196.1 L573.4,191.4 L575.0,193.4 L576.6,192.6 L578.2,189.5 L579.8,190.0 L581.3,190.8 L582.9,191.2 L584.5,189.3 L586.1,189.3 L587.7,198.3 L589.3,190.6 L590.9,193.6 L592.5,190.6 L594.1,191.4 L595.7,194.2 L597.3,196.5 L598.9,192.2 L600.5,187.5 L602.1,196.3 L603.7,187.1 L605.3,190.8 L606.9,191.2 L608.5,193.8 L610.0,192.7 L611.6,191.1 L613.2,190.1 L614.8,192.5 L616.4,192.8 L618.0,192.7 L619.6,191.1 L621.2,186.9 L622.8,189.0 L624.4,189.9 L626.0,190.0 L627.6,192.1 L629.2,188.6 L630.8,190.8 L632.4,189.4 L634.0,192.2 L635.6,190.1 L637.1,193.0 L638.7,191.3 L640.3,193.9 L641.9,199.7 L643.5,194.7 L645.1,198.2 L646.7,195.1 L648.3,190.2 L649.9,196.1 L651.5,189.8 L653.1,196.1 L654.7,189.7 L656.3,195.1 L657.9,192.2 L659.5,193.7 L661.1,199.0 L662.7,194.6 L664.3,195.4 L665.8,196.1 L667.4,192.0 L669.0,197.1 L670.6,197.9 L672.2,191.9 L673.8,193.8 L675.4,192.1 L677.0,194.0 L678.6,187.8 L680.2,191.9 L681.8,193.0 L683.4,192.2 L685.0,188.0 L686.6,192.9 L688.2,189.3 L689.8,192.5 L691.4,190.6 L692.9,188.4 L694.5,191.6 L696.1,192.2 L697.7,191.3 L699.3,194.7 L700.9,188.9 L702.5,188.6 L704.1,187.7 L705.7,190.3 L707.3,189.9 L708.9,189.9 L710.5,190.6 L712.1,189.8 L713.7,186.6 L715.3,191.1 L716.9,190.3 L718.5,191.4 L720.1,195.5 L721.6,190.0 L723.2,192.2 L724.8,191.7 L726.4,189.4 L728.0,189.9 L729.6,194.0 L731.2,188.2 L732.8,189.4 L734.4,190.2 L736.0,187.5 L737.6,192.7 L739.2,188.9 L740.8,188.4 L742.4,189.6 L744.0,188.3 L745.6,189.7 L747.2,187.6 L748.7,192.5 L750.3,189.1 L751.9,187.2 L753.5,187.6 L755.1,190.1 L756.7,188.3 L758.3,185.7 L759.9,184.4 L761.5,182.0 L763.1,184.3 L764.7,174.3 L766.3,177.9 L767.9,177.8 L769.5,174.2 L771.1,175.4 L772.7,176.8 L774.3,178.6 L775.9,181.3 L777.4,181.2 L779.0,175.3 L780.6,174.4 L782.2,175.9 L783.8,176.0 L785.4,176.2 L787.0,172.4 L788.6,175.7 L790.2,176.8 L791.8,174.4 L793.4,172.9 L795.0,170.0 L796.6,169.2 L798.2,159.4 L799.8,166.3 L801.4,160.9 L803.0,106.1 L804.5,104.5 L806.1,107.9 L807.7,105.7 L809.3,107.0 L810.9,108.2 L812.5,105.4 L814.1,107.2 L815.7,106.7 L817.3,111.1 L818.9,107.3 L820.5,108.2 L822.1,106.3 L823.7,103.2 L825.3,105.5 L826.9,103.2 L828.5,99.8 L830.1,102.0 L831.7,96.0 L833.2,94.7" fill="none" stroke="#2020e0" stroke-width="1.0" stroke-dasharray="3.6,1.4"/>
<path d="M119.0,170.4 L120.6,171.5 L122.2,171.8 L123.8,172.9 L125.4,174.3 L127.0,175.3 L128.6,176.6 L130.2,175.4 L131.8,178.8 L133.3,179.1 L134.9,178.3 L136.5,177.5 L138.1,180.1 L139.7,181.1 L141.3,180.1 L142.9,182.9 L144.5,183.6 L146.1,184.0 L147.7,186.0 L149.3,186.8 L150.9,186.0 L152.5,238.8 L154.1,239.0 L155.7,239.8 L157.3,241.5 L158.9,242.8 L160.5,242.8 L162.0,242.4 L163.6,245.6 L165.2,244.7 L166.8,246.9 L168.4,249.0 L170.0,248.4 L171.6,248.3 L173.2,248.9 L174.8,251.8 L176.4,251.6 L178.0,252.9 L179.6,254.0 L181.2,254.0 L182.8,254.4 L184.4,254.5 L186.0,253.5 L187.6,255.4 L189.1,257.2 L190.7,257.7 L192.3,258.8 L193.9,259.0 L195.5,259.9 L197.1,261.1 L198.7,260.2 L200.3,261.2 L201.9,260.6 L203.5,263.1 L205.1,262.8 L206.7,263.7 L208.3,265.0 L209.9,265.1 L211.5,264.7 L213.1,265.8 L214.7,264.5 L216.3,266.5 L217.8,266.7 L219.4,265.8 L221.0,268.6 L222.6,267.5 L224.2,269.0 L225.8,268.6 L227.4,270.2 L229.0,271.0 L230.6,269.7 L232.2,269.5 L233.8,270.9 L235.4,272.0 L237.0,271.3 L238.6,271.5 L240.2,272.7 L241.8,270.4 L243.4,272.4 L244.9,272.1 L246.5,273.8 L248.1,273.1 L249.7,273.0 L251.3,273.8 L252.9,273.1 L254.5,274.4 L256.1,274.0 L257.7,274.4 L259.3,274.3 L260.9,275.8 L262.5,275.1 L264.1,275.8 L265.7,275.9 L267.3,275.0 L268.9,276.2 L270.5,276.1 L272.1,276.2 L273.6,275.7 L275.2,275.8 L276.8,276.9 L278.4,278.2 L280.0,275.9 L281.6,277.2 L283.2,276.6 L284.8,277.7 L286.4,277.7 L288.0,278.4 L289.6,275.5 L291.2,277.4 L292.8,277.3 L294.4,278.2 L296.0,277.9 L297.6,278.1 L299.2,279.3 L300.8,280.4 L302.3,276.8 L303.9,279.0 L305.5,279.6 L307.1,279.5 L308.7,279.4 L310.3,278.7 L311.9,279.2 L313.5,280.6 L315.1,280.8 L316.7,280.0 L318.3,279.2 L319.9,280.0 L321.5,279.7 L323.1,280.3 L324.7,279.9 L326.3,279.3 L327.9,279.9 L329.4,278.8 L331.0,280.4 L332.6,280.6 L334.2,278.7 L335.8,280.0 L337.4,278.8 L339.0,280.5 L340.6,280.3 L342.2,279.4 L343.8,280.3 L345.4,279.2 L347.0,279.0 L348.6,279.2 L350.2,279.6 L351.8,279.5 L353.4,280.0 L355.0,279.4 L356.6,280.6 L358.1,280.9 L359.7,279.7 L361.3,279.0 L362.9,280.8 L364.5,281.2 L366.1,280.3 L367.7,279.4 L369.3,280.7 L370.9,281.8 L372.5,279.2 L374.1,281.1 L375.7,280.6 L377.3,280.2 L378.9,281.3 L380.5,280.0 L382.1,281.3 L383.7,282.2 L385.2,281.3 L386.8,280.5 L388.4,279.8 L390.0,280.3 L391.6,279.9 L393.2,282.7 L394.8,281.3 L396.4,280.7 L398.0,280.5 L399.6,280.7 L401.2,281.4 L402.8,280.7 L404.4,283.1 L406.0,281.2 L407.6,281.2 L409.2,282.1 L410.8,283.1 L412.4,283.0 L413.9,281.6 L415.5,282.2 L417.1,282.1 L418.7,282.4 L420.3,282.2 L421.9,281.2 L423.5,281.0 L425.1,282.1 L426.7,281.1 L428.3,283.1 L429.9,282.0 L431.5,281.2 L433.1,281.7 L434.7,281.6 L436.3,281.9 L437.9,282.8 L439.5,280.8 L441.0,280.5 L442.6,282.3 L444.2,281.9 L445.8,282.1 L447.4,282.3 L449.0,281.7 L450.6,282.4 L452.2,280.9 L453.8,281.6 L455.4,280.8 L457.0,280.5 L458.6,281.8 L460.2,281.7 L461.8,279.6 L463.4,280.1 L465.0,281.2 L466.6,281.7 L468.2,280.2 L469.7,280.5 L471.3,279.5 L472.9,282.5 L474.5,280.8 L476.1,281.1 L477.7,280.8 L479.3,280.9 L480.9,280.6 L482.5,279.8 L484.1,280.6 L485.7,280.0 L487.3,280.9 L488.9,279.2 L490.5,279.3 L492.1,280.2 L493.7,280.7 L495.3,279.7 L496.8,279.0 L498.4,279.4 L500.0,279.0 L501.6,280.9 L503.2,280.0 L504.8,280.3 L506.4,279.4 L508.0,278.7 L509.6,280.0 L511.2,280.3 L512.8,279.5 L514.4,279.0 L516.0,279.9 L517.6,278.7 L519.2,279.6 L520.8,278.4 L522.4,278.2 L524.0,279.4 L525.5,279.2 L527.1,280.5 L528.7,278.7 L530.3,279.0 L531.9,278.0 L533.5,277.4 L535.1,277.5 L536.7,279.3 L538.3,278.0 L539.9,279.8 L541.5,280.0 L543.1,278.7 L544.7,280.2 L546.3,279.0 L547.9,279.6 L549.5,278.4 L551.1,279.3 L552.6,277.7 L554.2,278.8 L555.8,277.9 L557.4,278.1 L559.0,278.6 L560.6,278.1 L562.2,277.8 L563.8,278.4 L565.4,278.3 L567.0,276.5 L568.6,278.0 L570.2,278.0 L571.8,276.7 L573.4,277.6 L575.0,276.1 L576.6,278.2 L578.2,276.8 L579.8,276.9 L581.3,278.0 L582.9,276.9 L584.5,277.5 L586.1,276.2 L587.7,276.5 L589.3,275.9 L590.9,276.8 L592.5,277.8 L594.1,277.2 L595.7,277.7 L597.3,276.2 L598.9,276.3 L600.5,276.6 L602.1,277.5 L603.7,277.3 L605.3,277.0 L606.9,277.5 L608.5,276.9 L610.0,277.0 L611.6,278.1 L613.2,276.7 L614.8,277.3 L616.4,278.6 L618.0,277.4 L619.6,278.0 L621.2,277.0 L622.8,279.1 L624.4,275.8 L626.0,276.8 L627.6,276.9 L629.2,279.1 L630.8,278.2 L632.4,277.8 L634.0,277.0 L635.6,278.4 L637.1,278.3 L638.7,277.7 L640.3,277.2 L641.9,277.5 L643.5,278.7 L645.1,278.7 L646.7,278.4 L648.3,278.1 L649.9,276.8 L651.5,278.1 L653.1,277.2 L654.7,278.0 L656.3,278.2 L657.9,277.3 L659.5,276.9 L661.1,278.4 L662.7,277.8 L664.3,277.0 L665.8,275.0 L667.4,277.3 L669.0,277.7 L670.6,278.1 L672.2,276.5 L673.8,276.5 L675.4,276.6 L677.0,277.5 L678.6,275.8 L680.2,276.6 L681.8,275.9 L683.4,276.7 L685.0,275.2 L686.6,276.7 L688.2,275.9 L689.8,276.0 L691.4,276.5 L692.9,276.8 L694.5,274.3 L696.1,276.2 L697.7,275.6 L699.3,274.7 L700.9,275.8 L702.5,274.6 L704.1,275.3 L705.7,273.5 L707.3,273.1 L708.9,274.5 L710.5,275.0 L712.1,273.5 L713.7,273.5 L715.3,272.2 L716.9,271.3 L718.5,271.9 L720.1,273.0 L721.6,270.1 L723.2,271.0 L724.8,269.6 L726.4,271.0 L728.0,271.3 L729.6,269.4 L731.2,269.8 L732.8,271.0 L734.4,269.6 L736.0,268.4 L737.6,268.1 L739.2,267.3 L740.8,269.3 L742.4,267.9 L744.0,269.0 L745.6,268.3 L747.2,266.5 L748.7,266.1 L750.3,266.5 L751.9,265.5 L753.5,265.0 L755.1,262.9 L756.7,264.4 L758.3,262.5 L759.9,260.8 L761.5,261.6 L763.1,261.8 L764.7,262.6 L766.3,260.1 L767.9,258.8 L769.5,261.0 L771.1,258.7 L772.7,257.7 L774.3,256.4 L775.9,255.8 L777.4,257.1 L779.0,255.0 L780.6,254.2 L782.2,253.5 L783.8,254.5 L785.4,252.1 L787.0,252.3 L788.6,251.3 L790.2,250.5 L791.8,248.9 L793.4,249.3 L795.0,249.3 L796.6,247.3 L798.2,245.8 L799.8,244.8 L801.4,245.2 L803.0,192.5 L804.5,192.1 L806.1,191.7 L807.7,190.0 L809.3,191.3 L810.9,190.4 L812.5,189.7 L814.1,189.4 L815.7,189.5 L817.3,188.3 L818.9,187.0 L820.5,188.2 L822.1,186.4 L823.7,185.7 L825.3,184.6 L826.9,185.4 L828.5,184.1 L830.1,184.0 L831.7,182.3 L833.2,179.4" fill="none" stroke="#0a0a9a" stroke-width="1.0" stroke-dasharray="4.5,1.6"/>
<path d="M119.0,217.8 L120.6,217.8 L122.2,218.6 L123.8,219.1 L125.4,220.5 L127.0,220.8 L128.6,221.1 L130.2,222.6 L131.8,222.8 L133.3,223.4 L134.9,223.6 L136.5,225.9 L138.1,226.7 L139.7,227.6 L141.3,228.2 L142.9,228.9 L144.5,230.2 L146.1,231.5 L147.7,232.2 L149.3,233.2 L150.9,233.8 L152.5,284.1 L154.1,284.6 L155.7,284.5 L157.3,286.2 L158.9,286.8 L160.5,287.4 L162.0,287.3 L163.6,287.9 L165.2,287.9 L166.8,289.9 L168.4,288.6 L170.0,290.5 L171.6,291.2 L173.2,292.7 L174.8,292.8 L176.4,292.9 L178.0,293.2 L179.6,294.4 L181.2,295.7 L182.8,296.4 L184.4,296.9 L186.0,297.3 L187.6,298.4 L189.1,300.0 L190.7,299.2 L192.3,300.8 L193.9,302.6 L195.5,302.6 L197.1,302.6 L198.7,303.9 L200.3,303.4 L201.9,304.4 L203.5,306.0 L205.1,306.7 L206.7,304.6 L208.3,306.8 L209.9,308.2 L211.5,306.9 L213.1,308.0 L214.7,309.2 L216.3,308.1 L217.8,309.1 L219.4,309.1 L221.0,308.1 L222.6,310.0 L224.2,310.0 L225.8,311.1 L227.4,312.2 L229.0,311.5 L230.6,311.1 L232.2,312.0 L233.8,312.1 L235.4,313.0 L237.0,311.6 L238.6,312.1 L240.2,311.8 L241.8,314.0 L243.4,313.9 L244.9,313.8 L246.5,314.0 L248.1,314.4 L249.7,314.3 L251.3,315.0 L252.9,315.1 L254.5,316.6 L256.1,316.0 L257.7,315.5 L259.3,315.8 L260.9,317.3 L262.5,317.0 L264.1,317.1 L265.7,317.6 L267.3,318.4 L268.9,316.6 L270.5,317.2 L272.1,316.7 L273.6,318.5 L275.2,318.1 L276.8,318.1 L278.4,318.2 L280.0,319.4 L281.6,319.0 L283.2,318.9 L284.8,320.3 L286.4,318.8 L288.0,318.8 L289.6,321.7 L291.2,319.8 L292.8,319.8 L294.4,319.9 L296.0,320.4 L297.6,321.2 L299.2,321.4 L300.8,321.4 L302.3,321.0 L303.9,320.3 L305.5,321.7 L307.1,322.7 L308.7,322.6 L310.3,321.9 L311.9,322.7 L313.5,322.0 L315.1,322.2 L316.7,321.4 L318.3,322.1 L319.9,322.5 L321.5,322.3 L323.1,323.0 L324.7,323.8 L326.3,323.5 L327.9,322.4 L329.4,322.1 L331.0,322.2 L332.6,322.0 L334.2,322.7 L335.8,323.1 L337.4,322.9 L339.0,323.0 L340.6,323.0 L342.2,322.8 L343.8,322.4 L345.4,324.2 L347.0,323.8 L348.6,322.5 L350.2,322.6 L351.8,322.9 L353.4,323.5 L355.0,324.4 L356.6,324.3 L358.1,324.5 L359.7,324.6 L361.3,324.7 L362.9,324.5 L364.5,324.4 L366.1,324.1 L367.7,323.1 L369.3,324.3 L370.9,325.7 L372.5,324.2 L374.1,324.2 L375.7,325.5 L377.3,324.9 L378.9,324.6 L380.5,326.1 L382.1,325.5 L383.7,325.6 L385.2,324.8 L386.8,325.6 L388.4,325.5 L390.0,325.8 L391.6,326.2 L393.2,326.2 L394.8,325.6 L396.4,326.0 L398.0,324.7 L399.6,326.0 L401.2,326.1 L402.8,325.4 L404.4,325.2 L406.0,325.7 L407.6,325.0 L409.2,326.1 L410.8,326.1 L412.4,325.3 L413.9,326.0 L415.5,326.7 L417.1,326.7 L418.7,326.6 L420.3,325.8 L421.9,325.7 L423.5,325.6 L425.1,326.3 L426.7,327.5 L428.3,326.8 L429.9,326.9 L431.5,326.7 L433.1,324.6 L434.7,325.6 L436.3,325.4 L437.9,326.6 L439.5,326.9 L441.0,325.2 L442.6,325.7 L444.2,326.0 L445.8,325.3 L447.4,325.1 L449.0,325.0 L450.6,326.0 L452.2,324.7 L453.8,326.0 L455.4,325.2 L457.0,325.6 L458.6,326.1 L460.2,324.4 L461.8,324.3 L463.4,325.0 L465.0,324.0 L466.6,324.1 L468.2,324.4 L469.7,324.6 L471.3,323.5 L472.9,324.0 L474.5,324.6 L476.1,325.1 L477.7,322.7 L479.3,324.9 L480.9,324.5 L482.5,323.1 L484.1,322.7 L485.7,323.9 L487.3,323.3 L488.9,323.6 L490.5,324.0 L492.1,323.1 L493.7,323.3 L495.3,323.5 L496.8,323.7 L498.4,324.2 L500.0,324.1 L501.6,323.0 L503.2,322.6 L504.8,324.3 L506.4,323.0 L508.0,322.8 L509.6,321.6 L511.2,322.9 L512.8,321.8 L514.4,322.0 L516.0,321.4 L517.6,321.9 L519.2,322.3 L520.8,321.3 L522.4,321.7 L524.0,322.2 L525.5,321.4 L527.1,321.4 L528.7,321.7 L530.3,321.3 L531.9,322.7 L533.5,321.6 L535.1,322.8 L536.7,322.9 L538.3,321.5 L539.9,322.3 L541.5,322.0 L543.1,321.5 L544.7,322.1 L546.3,322.1 L547.9,322.7 L549.5,322.9 L551.1,321.4 L552.6,321.9 L554.2,322.5 L555.8,322.9 L557.4,320.4 L559.0,322.9 L560.6,321.9 L562.2,323.1 L563.8,321.7 L565.4,321.3 L567.0,321.9 L568.6,322.7 L570.2,321.9 L571.8,320.2 L573.4,322.3 L575.0,320.6 L576.6,321.0 L578.2,320.9 L579.8,320.4 L581.3,320.7 L582.9,320.8 L584.5,321.1 L586.1,321.4 L587.7,321.2 L589.3,320.3 L590.9,321.2 L592.5,321.9 L594.1,321.9 L595.7,321.2 L597.3,321.5 L598.9,321.7 L600.5,322.0 L602.1,322.1 L603.7,320.7 L605.3,320.7 L606.9,321.8 L608.5,321.9 L610.0,321.8 L611.6,319.0 L613.2,320.5 L614.8,318.3 L616.4,321.1 L618.0,320.6 L619.6,320.6 L621.2,320.4 L622.8,321.4 L624.4,320.2 L626.0,321.1 L627.6,320.7 L629.2,320.6 L630.8,320.6 L632.4,320.3 L634.0,319.5 L635.6,320.7 L637.1,320.7 L638.7,320.0 L640.3,320.6 L641.9,320.6 L643.5,319.0 L645.1,319.7 L646.7,319.5 L648.3,319.0 L649.9,319.8 L651.5,318.9 L653.1,319.1 L654.7,319.5 L656.3,319.5 L657.9,319.4 L659.5,320.7 L661.1,318.7 L662.7,319.1 L664.3,318.0 L665.8,319.1 L667.4,319.5 L669.0,319.3 L670.6,317.9 L672.2,318.0 L673.8,318.9 L675.4,317.8 L677.0,318.4 L678.6,316.8 L680.2,318.3 L681.8,317.9 L683.4,317.4 L685.0,316.3 L686.6,316.6 L688.2,316.7 L689.8,316.6 L691.4,316.2 L692.9,315.9 L694.5,315.9 L696.1,316.5 L697.7,313.9 L699.3,314.1 L700.9,313.7 L702.5,314.1 L704.1,313.1 L705.7,314.5 L707.3,313.9 L708.9,313.4 L710.5,312.9 L712.1,313.2 L713.7,313.0 L715.3,312.9 L716.9,311.9 L718.5,312.6 L720.1,310.8 L721.6,312.4 L723.2,309.0 L724.8,310.5 L726.4,309.7 L728.0,310.8 L729.6,308.9 L731.2,310.9 L732.8,308.2 L734.4,310.4 L736.0,309.0 L737.6,308.4 L739.2,308.4 L740.8,309.3 L742.4,308.0 L744.0,305.5 L745.6,307.5 L747.2,306.4 L748.7,304.8 L750.3,306.0 L751.9,304.2 L753.5,304.8 L755.1,304.4 L756.7,303.4 L758.3,303.9 L759.9,302.4 L761.5,302.8 L763.1,301.9 L764.7,301.8 L766.3,302.8 L767.9,301.2 L769.5,299.9 L771.1,300.2 L772.7,299.3 L774.3,299.5 L775.9,299.2 L777.4,298.7 L779.0,298.3 L780.6,297.5 L782.2,297.8 L783.8,297.8 L785.4,296.1 L787.0,295.6 L788.6,294.8 L790.2,294.8 L791.8,293.8 L793.4,291.7 L795.0,291.4 L796.6,289.4 L798.2,288.9 L799.8,288.8 L801.4,288.3 L803.0,237.3 L804.5,235.9 L806.1,234.5 L807.7,235.2 L809.3,234.2 L810.9,234.0 L812.5,233.3 L814.1,233.1 L815.7,232.5 L817.3,232.0 L818.9,230.5 L820.5,231.0 L822.1,229.2 L823.7,228.8 L825.3,229.2 L826.9,227.4 L828.5,225.5 L830.1,226.5 L831.7,224.2 L833.2,222.5" fill="none" stroke="#05055a" stroke-width="1.2" stroke-dasharray="6.5,1.5"/>
<path d="M119.0,301.6 L120.6,301.8 L122.2,302.1 L123.8,304.3 L125.4,303.6 L127.0,304.2 L128.6,304.9 L130.2,307.2 L131.8,307.1 L133.3,307.1 L134.9,308.1 L136.5,309.3 L138.1,310.3 L139.7,309.4 L141.3,311.9 L142.9,311.9 L144.5,312.4 L146.1,313.4 L147.7,315.0 L149.3,316.0 L150.9,315.1 L152.5,367.7 L154.1,367.6 L155.7,369.4 L157.3,370.5 L158.9,369.8 L160.5,371.4 L162.0,373.2 L163.6,372.3 L165.2,374.0 L166.8,375.3 L168.4,374.3 L170.0,375.9 L171.6,376.8 L173.2,378.0 L174.8,377.2 L176.4,379.5 L178.0,379.5 L179.6,380.8 L181.2,381.4 L182.8,381.4 L184.4,382.1 L186.0,381.1 L187.6,382.0 L189.1,382.8 L190.7,383.9 L192.3,385.3 L193.9,384.0 L195.5,385.6 L197.1,385.5 L198.7,385.8 L200.3,388.3 L201.9,387.7 L203.5,389.1 L205.1,389.2 L206.7,388.1 L208.3,387.9 L209.9,391.0 L211.5,389.7 L213.1,389.5 L214.7,391.1 L216.3,391.0 L217.8,390.7 L219.4,391.2 L221.0,391.8 L222.6,392.0 L224.2,392.8 L225.8,392.3 L227.4,392.5 L229.0,393.5 L230.6,393.5 L232.2,394.3 L233.8,393.7 L235.4,394.0 L237.0,393.6 L238.6,395.7 L240.2,393.9 L241.8,395.3 L243.4,394.8 L244.9,395.9 L246.5,396.5 L248.1,395.0 L249.7,396.1 L251.3,395.2 L252.9,397.5 L254.5,396.4 L256.1,395.7 L257.7,396.5 L259.3,398.1 L260.9,398.3 L262.5,398.3 L264.1,397.0 L265.7,397.6 L267.3,399.0 L268.9,397.5 L270.5,397.9 L272.1,397.6 L273.6,397.6 L275.2,399.4 L276.8,399.2 L278.4,399.2 L280.0,399.4 L281.6,399.9 L283.2,400.4 L284.8,399.5 L286.4,399.5 L288.0,399.2 L289.6,400.8 L291.2,399.9 L292.8,399.3 L294.4,400.4 L296.0,400.7 L297.6,401.5 L299.2,401.8 L300.8,400.7 L302.3,400.8 L303.9,401.3 L305.5,400.9 L307.1,401.8 L308.7,402.4 L310.3,402.3 L311.9,401.3 L313.5,401.7 L315.1,403.5 L316.7,402.0 L318.3,403.3 L319.9,403.3 L321.5,402.7 L323.1,402.3 L324.7,403.3 L326.3,402.6 L327.9,403.2 L329.4,403.4 L331.0,402.9 L332.6,403.4 L334.2,403.4 L335.8,402.8 L337.4,403.6 L339.0,403.4 L340.6,402.7 L342.2,403.8 L343.8,403.9 L345.4,403.8 L347.0,402.8 L348.6,404.9 L350.2,404.9 L351.8,404.9 L353.4,404.7 L355.0,403.7 L356.6,404.7 L358.1,404.0 L359.7,406.3 L361.3,404.4 L362.9,405.3 L364.5,403.8 L366.1,404.1 L367.7,404.7 L369.3,405.6 L370.9,405.5 L372.5,405.4 L374.1,404.0 L375.7,406.1 L377.3,404.7 L378.9,406.6 L380.5,406.8 L382.1,406.1 L383.7,406.3 L385.2,404.7 L386.8,407.5 L388.4,405.9 L390.0,406.4 L391.6,405.2 L393.2,405.8 L394.8,405.0 L396.4,405.7 L398.0,405.9 L399.6,406.1 L401.2,407.0 L402.8,406.4 L404.4,406.2 L406.0,406.1 L407.6,407.6 L409.2,405.8 L410.8,407.1 L412.4,404.9 L413.9,405.7 L415.5,406.6 L417.1,406.3 L418.7,408.5 L420.3,408.3 L421.9,405.4 L423.5,405.7 L425.1,406.3 L426.7,407.6 L428.3,407.2 L429.9,406.6 L431.5,405.3 L433.1,405.7 L434.7,404.3 L436.3,405.1 L437.9,406.4 L439.5,406.7 L441.0,405.1 L442.6,406.1 L444.2,407.1 L445.8,406.1 L447.4,405.7 L449.0,406.3 L450.6,406.2 L452.2,405.9 L453.8,405.4 L455.4,405.4 L457.0,405.7 L458.6,405.3 L460.2,406.5 L461.8,406.2 L463.4,406.3 L465.0,406.9 L466.6,406.5 L468.2,406.4 L469.7,405.6 L471.3,405.1 L472.9,406.8 L474.5,404.7 L476.1,404.7 L477.7,404.4 L479.3,405.1 L480.9,405.2 L482.5,405.6 L484.1,404.7 L485.7,403.5 L487.3,404.9 L488.9,405.3 L490.5,404.6 L492.1,404.4 L493.7,404.9 L495.3,405.4 L496.8,404.3 L498.4,403.3 L500.0,403.9 L501.6,404.1 L503.2,402.9 L504.8,404.6 L506.4,403.5 L508.0,404.3 L509.6,404.1 L511.2,403.7 L512.8,405.1 L514.4,403.5 L516.0,403.4 L517.6,404.1 L519.2,404.4 L520.8,403.8 L522.4,403.1 L524.0,404.3 L525.5,404.2 L527.1,405.2 L528.7,403.6 L530.3,403.9 L531.9,403.3 L533.5,402.6 L535.1,403.7 L536.7,404.2 L538.3,402.9 L539.9,403.1 L541.5,402.8 L543.1,404.5 L544.7,403.1 L546.3,403.9 L547.9,402.9 L549.5,403.6 L551.1,403.0 L552.6,401.8 L554.2,403.4 L555.8,403.7 L557.4,401.9 L559.0,403.2 L560.6,402.9 L562.2,402.4 L563.8,403.0 L565.4,401.8 L567.0,403.3 L568.6,403.9 L570.2,402.1 L571.8,402.9 L573.4,403.9 L575.0,403.0 L576.6,402.5 L578.2,402.2 L579.8,402.9 L581.3,402.7 L582.9,403.2 L584.5,401.6 L586.1,403.4 L587.7,402.3 L589.3,403.0 L590.9,402.0 L592.5,401.5 L594.1,401.9 L595.7,401.6 L597.3,401.8 L598.9,402.5 L600.5,402.6 L602.1,401.9 L603.7,401.3 L605.3,401.2 L606.9,401.8 L608.5,402.1 L610.0,401.0 L611.6,401.0 L613.2,400.5 L614.8,401.0 L616.4,401.4 L618.0,398.6 L619.6,400.7 L621.2,400.0 L622.8,398.7 L624.4,400.4 L626.0,400.0 L627.6,400.2 L629.2,398.9 L630.8,401.2 L632.4,399.7 L634.0,399.3 L635.6,400.5 L637.1,399.7 L638.7,399.8 L640.3,399.9 L641.9,397.5 L643.5,400.0 L645.1,398.5 L646.7,398.8 L648.3,399.1 L649.9,397.9 L651.5,398.5 L653.1,398.7 L654.7,398.0 L656.3,398.3 L657.9,396.7 L659.5,396.9 L661.1,396.8 L662.7,397.7 L664.3,400.0 L665.8,397.4 L667.4,397.0 L669.0,397.0 L670.6,397.6 L672.2,397.3 L673.8,395.9 L675.4,397.3 L677.0,396.4 L678.6,396.8 L680.2,394.7 L681.8,394.8 L683.4,396.1 L685.0,394.2 L686.6,395.6 L688.2,395.4 L689.8,395.0 L691.4,395.0 L692.9,394.7 L694.5,394.7 L696.1,393.9 L697.7,394.0 L699.3,395.9 L700.9,394.4 L702.5,393.9 L704.1,393.5 L705.7,392.5 L707.3,393.0 L708.9,392.5 L710.5,393.1 L712.1,391.7 L713.7,390.5 L715.3,391.5 L716.9,392.2 L718.5,393.3 L720.1,392.0 L721.6,390.3 L723.2,390.6 L724.8,389.8 L726.4,390.1 L728.0,389.3 L729.6,388.6 L731.2,389.8 L732.8,389.3 L734.4,388.8 L736.0,388.9 L737.6,389.8 L739.2,388.2 L740.8,387.4 L742.4,387.6 L744.0,385.1 L745.6,386.1 L747.2,384.4 L748.7,383.7 L750.3,383.6 L751.9,384.0 L753.5,381.7 L755.1,382.2 L756.7,381.1 L758.3,379.5 L759.9,380.7 L761.5,379.1 L763.1,378.2 L764.7,378.3 L766.3,377.9 L767.9,378.4 L769.5,377.1 L771.1,378.3 L772.7,377.0 L774.3,375.9 L775.9,375.4 L777.4,375.8 L779.0,373.8 L780.6,373.3 L782.2,373.8 L783.8,374.1 L785.4,373.1 L787.0,372.2 L788.6,371.3 L790.2,369.2 L791.8,369.7 L793.4,368.0 L795.0,369.0 L796.6,367.7 L798.2,366.9 L799.8,366.5 L801.4,365.7 L803.0,315.3 L804.5,314.9 L806.1,313.7 L807.7,312.6 L809.3,313.3 L810.9,313.5 L812.5,312.6 L814.1,311.2 L815.7,311.3 L817.3,310.0 L818.9,310.0 L820.5,308.8 L822.1,308.6 L823.7,309.1 L825.3,307.5 L826.9,307.1 L828.5,304.7 L830.1,304.0 L831.7,302.5 L833.2,301.0" fill="none" stroke="#02023a" stroke-width="1.5" stroke-dasharray="7.8,2.1"/>
<path d="M119.0,566.0 L119.9,558.1 L121.6,582.0 L123.6,553.2 L125.2,563.1 L127.4,556.5 L128.5,563.1 L131.5,582.8 L133.9,566.4 L136.7,560.6 L138.9,563.1 L141.4,587.8 L143.0,589.4 L144.6,564.7 L146.6,587.8 L148.4,589.4 L150.4,572.9 L151.2,579.5 L152.6,635.5 L153.9,657.8 L155.5,642.1 L158.2,661.9 L161.6,671.3 L163.8,656.5 L165.9,661.8 L168.0,668.1 L170.1,659.6 L172.2,669.2 L175.0,673.4 L177.5,666.0 L179.6,661.3 L182.2,657.1 L184.3,684.0 L186.0,667.1 L187.7,679.8 L189.8,673.4 L191.9,667.1 L194.0,679.8 L196.6,682.9 L200.4,684.6 L201.9,702.0 L203.6,697.8 L205.5,703.1 L207.6,680.8 L209.7,663.9 L211.4,686.1 L213.5,682.9 L216.1,674.5 L217.8,697.8 L220.9,670.2 L222.6,695.7 L225.2,679.8 L228.8,676.6 L230.5,685.1 L232.2,673.4 L234.3,682.9 L235.6,672.4 L236.8,692.5 L238.9,687.2 L240.6,676.6 L241.7,710.5 L243.6,676.6 L245.3,694.6 L247.4,687.2 L249.5,688.2 L251.2,699.9 L253.1,680.8 L255.5,686.1 L257.6,666.0 L259.3,695.7 L261.2,679.8 L262.9,684.0 L263.9,699.9 L265.6,658.6 L267.5,703.1 L270.3,673.4 L272.8,692.5 L274.9,693.5 L276.6,703.1 L278.3,708.4 L280.2,703.1 L283.0,716.8 L284.9,689.3 L288.1,664.9 L290.8,713.7 L294.0,697.8 L297.2,697.8 L299.5,687.2 L302.5,709.4 L304.2,681.9 L306.7,702.0 L308.8,722.1 L310.9,704.1 L313.1,731.7 L315.2,688.2 L318.4,711.5 L320.5,698.8 L322.6,699.9 L324.7,693.5 L327.9,697.8 L330.0,706.2 L331.7,699.9 L334.2,673.4 L337.4,714.7 L339.5,691.4 L341.6,687.2 L343.8,680.8 L345.2,688.2 L346.9,686.1 L348.6,680.8 L350.3,699.9 L352.0,711.5 L355.0,682.9 L356.5,713.7 L358.4,678.7 L360.1,693.5 L361.8,692.5 L363.2,716.8 L366.0,711.5 L368.1,689.3 L370.7,687.2 L372.4,712.6 L374.5,713.7 L377.0,692.5 L379.1,704.1 L381.2,694.6 L383.4,695.7 L385.5,690.4 L387.2,703.1 L388.9,687.2 L391.4,695.7 L394.6,702.0 L397.8,674.5 L399.5,706.2 L403.1,685.1 L404.5,707.3 L406.7,697.8 L409.4,678.7 L410.9,704.1 L413.0,699.9 L414.3,708.4 L416.4,695.7 L418.9,680.8 L421.1,686.1 L423.2,692.5 L425.3,697.8 L427.0,676.6 L428.5,705.2 L430.6,693.5 L433.3,692.5 L434.6,725.3 L436.5,702.0 L438.0,692.5 L439.7,727.4 L442.2,698.8 L445.6,726.4 L447.5,678.7 L449.0,704.1 L452.2,684.0 L454.3,709.4 L457.1,716.8 L460.2,681.9 L463.8,702.0 L466.6,690.4 L468.7,697.8 L471.5,687.2 L474.0,685.1 L476.1,676.6 L477.8,691.4 L480.8,713.7 L482.9,687.2 L486.3,678.7 L488.8,672.4 L490.5,697.8 L493.1,678.7 L495.2,663.9 L497.3,692.5 L499.4,687.2 L501.5,672.4 L503.7,690.4 L506.2,680.8 L508.9,677.6 L510.0,677.2 L511.7,676.1 L513.8,699.4 L515.9,680.4 L518.9,701.5 L521.0,681.4 L523.8,681.4 L525.2,679.3 L526.9,692.0 L529.1,676.1 L532.2,677.2 L533.7,700.5 L535.4,702.6 L537.1,683.5 L538.6,694.1 L540.7,679.3 L542.2,690.9 L543.5,676.1 L544.9,696.2 L546.6,677.2 L548.5,697.3 L551.3,672.9 L554.0,695.2 L556.2,667.6 L558.7,694.1 L560.8,681.4 L564.0,710.0 L567.2,676.1 L569.9,702.6 L571.4,702.6 L573.5,677.2 L576.7,700.5 L578.8,706.8 L581.6,676.1 L584.1,694.1 L587.9,678.2 L590.5,684.6 L593.7,670.8 L595.3,687.8 L596.8,671.9 L598.9,687.8 L602.1,687.8 L603.6,694.1 L607.0,672.9 L608.5,697.3 L610.6,690.9 L613.3,666.6 L616.3,700.5 L618.4,688.8 L621.2,705.8 L624.4,681.4 L626.1,689.9 L627.7,669.8 L629.7,688.8 L631.8,687.8 L634.9,685.7 L638.1,690.9 L640.2,710.0 L643.0,687.8 L646.6,683.5 L649.8,706.8 L651.5,687.8 L653.6,687.8 L656.1,704.7 L659.9,677.2 L662.5,701.5 L665.7,704.7 L667.8,681.4 L670.9,683.5 L672.6,675.1 L675.2,689.9 L677.3,722.7 L679.0,695.2 L680.6,713.7 L682.7,688.2 L685.2,667.1 L686.9,696.7 L689.1,681.9 L691.6,680.8 L694.4,700.9 L696.5,675.5 L698.0,675.5 L699.6,700.9 L701.8,692.5 L703.9,686.1 L705.6,690.4 L707.7,680.8 L710.2,697.8 L713.4,678.7 L715.5,684.0 L717.0,663.9 L718.7,702.0 L720.2,677.7 L721.9,702.0 L724.0,681.9 L725.5,686.1 L726.8,677.7 L729.3,692.5 L732.5,664.9 L734.0,662.8 L736.1,656.5 L737.8,695.7 L740.9,664.9 L744.1,688.2 L746.2,688.2 L747.9,694.6 L750.5,678.7 L752.2,695.7 L753.7,662.8 L755.8,675.5 L757.9,671.3 L760.0,690.4 L761.5,668.1 L763.2,670.2 L765.3,673.4 L767.8,640.6 L770.0,669.2 L772.1,660.7 L774.8,662.8 L777.6,681.9 L780.1,670.2 L782.2,657.5 L785.4,677.7 L787.5,644.8 L788.6,648.0 L790.3,696.7 L792.4,655.4 L794.9,657.5 L798.1,651.2 L800.2,658.6 L802.4,631.1 L803.0,579.2 L805.1,595.1 L807.7,569.6 L810.2,586.6 L812.3,607.8 L814.4,583.4 L815.7,600.4 L817.2,595.1 L819.9,597.2 L822.9,570.7 L824.6,571.8 L827.1,591.9 L829.3,578.1 L830.9,588.7 L832.0,561.2 L833.1,563.3 L833.8,562.0" fill="none" stroke="#000" stroke-width="2.5" stroke-linejoin="round"/>
</g>
<rect x="119.5" y="39.5" width="714.0" height="726.0" fill="none" stroke="#000" stroke-width="1.1"/>
<path d="M197.5,765.5 V771.3 M277.5,765.5 V771.3 M357.5,765.5 V771.3 M436.5,765.5 V771.3 M516.5,765.5 V771.3 M596.5,765.5 V771.3 M676.5,765.5 V771.3 M755.5,765.5 V771.3 M119.5,682.5 H113.5 M119.5,469.5 H113.5 M119.5,257.5 H113.5 M119.5,44.5 H113.5" stroke="#000" stroke-width="1.1"/>
<path d="M119.5,746.5 H116.2 M119.5,729.5 H116.2 M119.5,715.5 H116.2 M119.5,702.5 H116.2 M119.5,692.5 H116.2 M119.5,618.5 H116.2 M119.5,580.5 H116.2 M119.5,554.5 H116.2 M119.5,533.5 H116.2 M119.5,516.5 H116.2 M119.5,502.5 H116.2 M119.5,490.5 H116.2 M119.5,479.5 H116.2 M119.5,405.5 H116.2 M119.5,368.5 H116.2 M119.5,341.5 H116.2 M119.5,321.5 H116.2 M119.5,304.5 H116.2 M119.5,289.5 H116.2 M119.5,277.5 H116.2 M119.5,266.5 H116.2 M119.5,192.5 H116.2 M119.5,155.5 H116.2 M119.5,128.5 H116.2 M119.5,108.5 H116.2 M119.5,91.5 H116.2 M119.5,77.5 H116.2 M119.5,64.5 H116.2 M119.5,54.5 H116.2" stroke="#000" stroke-width="0.8"/>
<text x="197.5" y="790.6" font-size="17.7" text-anchor="middle" font-family="Liberation Sans, sans-serif" textLength="18.1" lengthAdjust="spacingAndGlyphs">50</text>
<text x="277.5" y="790.6" font-size="17.7" text-anchor="middle" font-family="Liberation Sans, sans-serif" textLength="29.2" lengthAdjust="spacingAndGlyphs">100</text>
<text x="357.5" y="790.6" font-size="17.7" text-anchor="middle" font-family="Liberation Sans, sans-serif" textLength="29.2" lengthAdjust="spacingAndGlyphs">150</text>
<text x="436.5" y="790.6" font-size="17.7" text-anchor="middle" font-family="Liberation Sans, sans-serif" textLength="29.2" lengthAdjust="spacingAndGlyphs">200</text>
<text x="516.5" y="790.6" font-size="17.7" text-anchor="middle" font-family="Liberation Sans, sans-serif" textLength="29.2" lengthAdjust="spacingAndGlyphs">250</text>
<text x="596.5" y="790.6" font-size="17.7" text-anchor="middle" font-family="Liberation Sans, sans-serif" textLength="29.2" lengthAdjust="spacingAndGlyphs">300</text>
<text x="676.5" y="790.6" font-size="17.7" text-anchor="middle" font-family="Liberation Sans, sans-serif" textLength="29.2" lengthAdjust="spacingAndGlyphs">350</text>
<text x="755.5" y="790.6" font-size="17.7" text-anchor="middle" font-family="Liberation Sans, sans-serif" textLength="29.2" lengthAdjust="spacingAndGlyphs">400</text>
<text x="96.6" y="51.7" font-size="17.7" text-anchor="end" font-family="Liberation Sans, sans-serif">10</text>
<text x="99.3" y="44.7" font-size="12" font-family="Liberation Sans, sans-serif">1</text>
<text x="96.6" y="264.7" font-size="17.7" text-anchor="end" font-family="Liberation Sans, sans-serif">10</text>
<text x="99.3" y="257.7" font-size="12" font-family="Liberation Sans, sans-serif">0</text>
<text x="89.0" y="476.7" font-size="17.7" text-anchor="end" font-family="Liberation Sans, sans-serif">10</text>
<rect x="91.1" y="465.9" width="7.2" height="1.0" fill="#000"/>
<text x="100.5" y="469.7" font-size="12" font-family="Liberation Sans, sans-serif">1</text>
<text x="89.0" y="689.7" font-size="17.7" text-anchor="end" font-family="Liberation Sans, sans-serif">10</text>
<rect x="91.1" y="678.9" width="7.2" height="1.0" fill="#000"/>
<text x="100.5" y="682.7" font-size="12" font-family="Liberation Sans, sans-serif">2</text>
<text x="475.5" y="815.6" font-size="17.7" text-anchor="middle" font-family="Liberation Sans, sans-serif" textLength="144.0" lengthAdjust="spacingAndGlyphs">Binned row index</text>
<g transform="translate(57.0,506.1) rotate(-90)">
<text x="-1.0" y="0" font-size="17.7" font-family="Liberation Sans, sans-serif" textLength="22.6" lengthAdjust="spacingAndGlyphs">SO</text>
<text x="22.8" y="0.2" font-size="9.5" font-family="Liberation Sans, sans-serif" textLength="5.3" lengthAdjust="spacingAndGlyphs">2</text>
<text x="34.6" y="0" font-size="17.7" font-family="Liberation Sans, sans-serif" textLength="171.5" lengthAdjust="spacingAndGlyphs">vertical column [DU]</text>
</g>
<rect x="119.2" y="16.9" width="714.4" height="22.6" rx="2.5" ry="2.5" fill="#fff" fill-opacity="0.8" stroke="#d6d6d6" stroke-width="1.6"/>
<line x1="119" y1="39.5" x2="834" y2="39.5" stroke="#6e6e6e" stroke-width="1.1"/>
<line x1="124.2" y1="27.4" x2="147.6" y2="27.4" stroke="#c6c6ff" stroke-width="0.8" stroke-dasharray="2.8,1.2"/>
<text x="156.8" y="32.2" font-size="12.5" font-family="Liberation Sans, sans-serif" textLength="35.0" lengthAdjust="spacingAndGlyphs">1-99%</text>
<line x1="278.0" y1="27.4" x2="301.8" y2="27.4" stroke="#a6a6ff" stroke-width="0.9" stroke-dasharray="4.5,1.6"/>
<text x="311.4" y="32.2" font-size="12.5" font-family="Liberation Sans, sans-serif" textLength="35.6" lengthAdjust="spacingAndGlyphs">5-95%</text>
<line x1="432.2" y1="27.4" x2="455.0" y2="27.4" stroke="#7474ff" stroke-width="1.5" stroke-dasharray="6.6,1.5"/>
<text x="464.7" y="32.2" font-size="12.5" font-family="Liberation Sans, sans-serif" textLength="42.9" lengthAdjust="spacingAndGlyphs">10-90%</text>
<line x1="593.0" y1="27.4" x2="616.0" y2="27.4" stroke="#6666ff" stroke-width="2.0" stroke-dasharray="7.8,2.1"/>
<text x="626.8" y="32.2" font-size="12.5" font-family="Liberation Sans, sans-serif" textLength="42.4" lengthAdjust="spacingAndGlyphs">25-75%</text>
<line x1="753.2" y1="27.4" x2="778.8" y2="27.4" stroke="#000000" stroke-width="2.6"/>
<text x="787.6" y="32.2" font-size="12.5" font-family="Liberation Sans, sans-serif" textLength="40.4" lengthAdjust="spacingAndGlyphs">Median</text>
</svg>
</body></html>
